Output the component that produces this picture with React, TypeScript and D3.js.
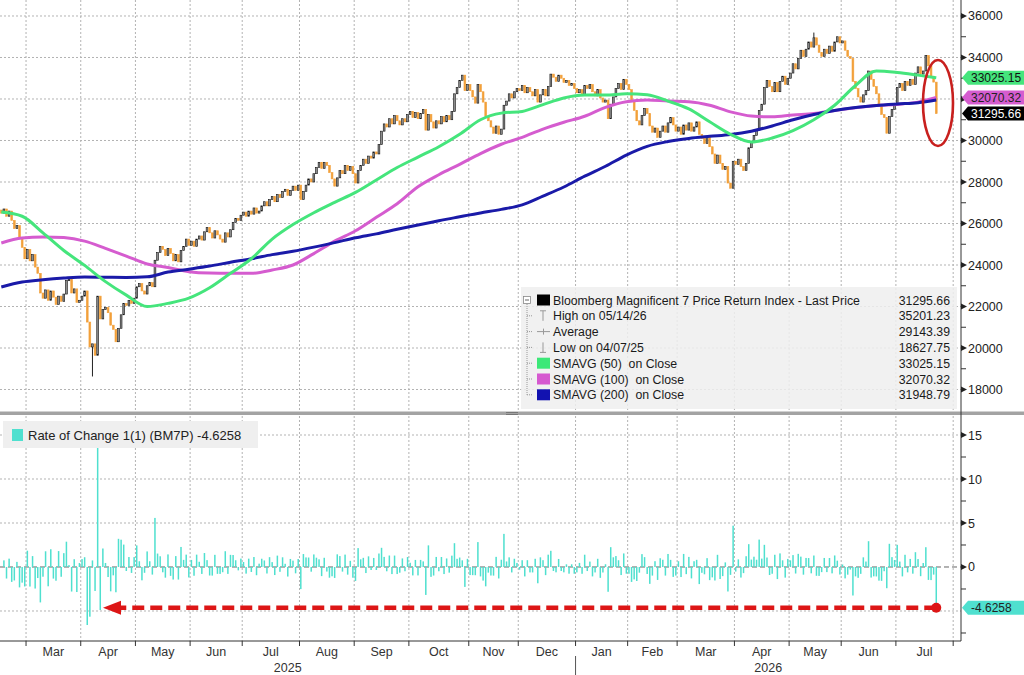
import React from 'react';
import * as d3 from 'd3';

// time axis: trading days per month (first and last months are partial)
const monthNames = ['Feb', 'Mar', 'Apr', 'May', 'Jun', 'Jul', 'Aug', 'Sep', 'Oct', 'Nov', 'Dec', 'Jan', 'Feb', 'Mar', 'Apr', 'May', 'Jun', 'Jul', 'Aug'];
const monthYears = [2025, 2025, 2025, 2025, 2025, 2025, 2025, 2025, 2025, 2025, 2025, 2026, 2026, 2026, 2026, 2026, 2026, 2026, 2026];
const monthTradingDays = [10, 21, 21, 21, 20, 22, 21, 21, 23, 19, 22, 20, 19, 22, 21, 20, 21, 22, 3];

// daily closes of BM7P
const closes = [
  // Feb 25
  26500, 26700, 26350, 26600, 26150, 25750, 25900, 25300, 24850, 24300,
  // Mar 25
  24750, 24200, 24500, 23900, 23600, 22650, 22400, 22800, 22300, 22750, 22450, 22100, 22500, 22250, 22600, 23250, 23300, 22650, 22850, 22200, 22300,
  // Apr 25
  22500, 22750, 21250, 20050, 20200, 19650, 22500, 21400, 21850, 21950, 21700, 21100, 20900, 20300, 20950, 21600, 22150, 22050, 22300, 22150, 22400,
  // May 25
  22950, 23100, 22750, 22600, 23000, 23150, 22950, 24230, 24600, 24900, 24750, 24450, 24800, 24550, 24200, 24500, 24150, 24700, 24900, 25250, 24950,
  // Jun 25
  25150, 24900, 25250, 25400, 25200, 25600, 25800, 25550, 25300, 25650, 25450, 25250, 25100, 25550, 25350, 25700, 26050, 26250, 26150, 26400,
  // Jul 25
  26550, 26350, 26600, 26450, 26750, 26500, 26600, 26850, 27050, 26850, 27150, 27300, 27050, 27400, 27250, 27550, 27650, 27350, 27600, 27800, 27600, 27850,
  // Aug 25
  27150, 27550, 27850, 28150, 28000, 28400, 28700, 28950, 28650, 28950, 28800, 28450, 28150, 27800, 28200, 28550, 28400, 28800, 28550, 28750, 28400,
  // Sep 25
  27950, 28550, 28800, 29100, 28900, 29250, 29150, 29450, 29350, 29800, 30450, 30800, 30650, 31050, 30800, 31200, 30950, 30750, 31050, 30900, 31250,
  // Oct 25
  31400, 31100, 31350, 31050, 31300, 31500, 30500, 31250, 30900, 30600, 30950, 30800, 31150, 30900, 31200, 31000, 31400, 32250, 32550, 32900, 33150, 32400, 32700,
  // Nov 25
  32400, 32100, 31800, 32700, 32350, 31850, 31150, 30950, 30650, 30350, 30700, 30300, 30550, 31700, 31900, 32250, 32050, 32350, 32500,
  // Dec 25
  32400, 32650, 32300, 32550, 32350, 32150, 32450, 31850, 32200, 32450, 32150, 32600, 33200, 33050, 32850, 33150, 33000, 32800, 32900, 32650, 32750, 32500,
  // Jan 26
  32300, 32450, 32200, 32650, 32500, 32700, 32350, 32150, 32450, 32050, 31850, 31950, 31050, 31750, 32100, 32500, 32750, 32450, 32950, 32700,
  // Feb 26
  32450, 31900, 31450, 30950, 30750, 31200, 31550, 31300, 30700, 30400, 30600, 30150, 30450, 30700, 30400, 30850, 31100, 30750, 30450,
  // Mar 26
  30650, 30300, 30750, 30500, 30850, 30450, 30650, 30900, 30300, 30100, 29850, 30150, 29700, 29350, 28900, 29300, 28900, 28600, 28750, 27950, 27700, 29000,
  // Apr 26
  28850, 29100, 28750, 28550, 28900, 29650, 29900, 30250, 30500, 31450, 31750, 32550, 32900, 32600, 32350, 32800, 32350, 32850, 33100, 32700, 33000,
  // May 26
  33250, 33700, 33450, 33950, 34350, 34050, 34400, 34750, 34500, 34950, 34600, 34250, 34050, 34400, 34200, 34550, 34300, 34750, 35000, 34700,
  // Jun 26
  34800, 34350, 34050, 33950, 32850, 32500, 32100, 31850, 32200, 32400, 33350, 32950, 32600, 32250, 31750, 31250, 31100, 30350, 31150, 31500, 31750,
  // Jul 26
  32550, 32750, 32400, 32850, 32650, 32950, 32700, 33250, 33550, 33200, 33350, 34100, 33600, 33100, 32813.5, 31295.66,
];
const firstOpen = 26650;
const lowMark = { day: 35, value: 18627.75 };
const highMark = { day: 312, value: 35201.23 };
const lastRocText = '-4.6258';

// moving averages sampled every 8 trading days (plus the last day)
const smaDays = [...d3.range(0, 353, 8), 359];
const sma50 = [26550, 26350, 25550, 24700, 23980, 23200, 22550, 22000, 22150, 22400, 22900, 23600, 24300, 25250, 25950, 26520, 27020, 27500, 28100, 28700, 29200, 29700, 30300, 31000, 31320, 31400, 31730, 32050, 32190, 32190, 32250, 32200, 31900, 31520, 30900, 30300, 29930, 30120, 30480, 31000, 31700, 32650, 33350, 33280, 33150, 33025.15];
const sma100 = [25060, 25300, 25350, 25320, 25150, 24800, 24430, 24050, 23880, 23680, 23610, 23600, 23600, 23760, 24000, 24550, 25150, 25650, 26300, 26950, 27770, 28350, 28850, 29370, 29820, 30150, 30550, 30880, 31170, 31600, 31870, 31950, 31900, 31870, 31700, 31380, 31180, 31140, 31230, 31300, 31450, 31580, 31690, 31740, 31850, 32070.32];
const sma200 = [22940, 23180, 23290, 23370, 23420, 23410, 23400, 23430, 23660, 23800, 23950, 24130, 24300, 24500, 24660, 24860, 25080, 25310, 25500, 25720, 25930, 26130, 26330, 26510, 26680, 26900, 27320, 27760, 28280, 28760, 29300, 29720, 29950, 30100, 30200, 30290, 30450, 30700, 31000, 31250, 31450, 31590, 31690, 31760, 31820, 31948.79];

const priceTicks = d3.range(18000, 36001, 2000);
const priceMinor = d3.range(19000, 36000, 2000);
const rocTicks = [0, 5, 10, 15];
const rocMinor = [-7.5, -2.5, 2.5, 7.5, 12.5];
const rocGrid = [-5, 5, 10, 15];

const legendRows = [
  { label: 'Bloomberg Magnificent 7 Price Return Index - Last Price', value: '31295.66', icon: 'square', color: '#000' },
  { label: 'High on 05/14/26', value: '35201.23', icon: 'high', color: '#999' },
  { label: 'Average', value: '29143.39', icon: 'avg', color: '#999' },
  { label: 'Low on 04/07/25', value: '18627.75', icon: 'low', color: '#999' },
  { label: 'SMAVG (50)  on Close', value: '33025.15', icon: 'square', color: '#3ce878' },
  { label: 'SMAVG (100)  on Close', value: '32070.32', icon: 'square', color: '#d659d0' },
  { label: 'SMAVG (200)  on Close', value: '31948.79', icon: 'square', color: '#1212b0' },
];

const FONT = "'Liberation Sans', Arial, sans-serif";
const GREEN = '#45e57c';
const MAGENTA = '#d55ccf';
const BLUE = '#1a1aa8';
const TURQ = '#4fe0cf';
const ORANGE = '#f2a03a';

function ValueTag({ y, fill, color, text }: { y: number; fill: string; color: string; text: string }) {
  const h = 7;
  return (
    <g>
      <path d={`M962,${y} L968,${y - h} L1024,${y - h} L1024,${y + h} L968,${y + h} Z`} fill={fill} />
      <text x={971} y={y + 4.3} fontSize={12} fill={color} fontFamily={FONT}>{text}</text>
    </g>
  );
}

export default function App() {
  const W = 1024;
  const H = 675;
  const right = 961;
  const upper = { top: 0, bottom: 411 };
  const lower = { top: 416, bottom: 641 };

  const bounds = Array.from(d3.cumsum([0, ...monthTradingDays]));
  const totalDays = bounds[bounds.length - 1];

  const x = d3.scaleLinear().domain([0, totalDays]).range([0, right]);
  const yP = d3.scaleLinear().domain([16964, 36771]).range([upper.bottom, upper.top]);
  const yR = d3.scaleLinear().domain([-8.41, 17.16]).range([lower.bottom, lower.top]);
  const cx = (i: number) => x(i + 0.5);

  const roc = closes.map((c, i) => (i === 0 ? null : (c / closes[i - 1] - 1) * 100));
  const lastRoc = roc[roc.length - 1] as number;
  const lastIdx = closes.length - 1;

  const smaLine = (vals: number[]) =>
    d3.line<number>()
      .x((_, k) => cx(smaDays[k]))
      .y(v => yP(v))
      .curve(d3.curveMonotoneX)(vals) || '';

  const innerBounds = bounds.slice(1, -1);

  // price tags on the right axis hide the tick labels under them
  const tagYs = [yP(sma50[sma50.length - 1]), yP(sma100[sma100.length - 1]), yP(closes[lastIdx])];
  const hidden = (y: number) => tagYs.some(t => Math.abs(t - y) < 9);

  // year spans on the axis
  const years = Array.from(new Set(monthYears)).map(yr => {
    const idx = monthYears.map((m, i) => (m === yr ? i : -1)).filter(i => i >= 0);
    const a = bounds[idx[0]];
    const b = bounds[idx[idx.length - 1] + 1];
    return { yr, a, b };
  });

  const legendX = 521;
  const legendY = 287;
  const rowH = 15.8;

  return (
    <svg width={W} height={H} style={{ position: 'absolute', left: 0, top: 0, background: '#fff' }} fontFamily={FONT}>
      <rect x={0} y={0} width={W} height={H} fill="#fff" />

      {/* grids */}
      <g stroke="#b3b3b3" strokeWidth={1} strokeDasharray="2,2">
        {priceTicks.map(t => (
          <line key={'pg' + t} x1={0} x2={right} y1={yP(t)} y2={yP(t)} />
        ))}
        {rocGrid.map(t => (
          <line key={'rg' + t} x1={0} x2={right} y1={yR(t)} y2={yR(t)} />
        ))}
        {innerBounds.map(b => (
          <g key={'vg' + b}>
            <line x1={x(b)} x2={x(b)} y1={upper.top} y2={upper.bottom} />
            <line x1={x(b)} x2={x(b)} y1={lower.top} y2={lower.bottom} />
          </g>
        ))}
      </g>

      {/* candles */}
      <g>
        <line x1={cx(lowMark.day)} x2={cx(lowMark.day)} y1={yP(closes[lowMark.day - 1])} y2={yP(lowMark.value)} stroke="#222" strokeWidth={1} />
        <line x1={cx(highMark.day)} x2={cx(highMark.day)} y1={yP(closes[highMark.day])} y2={yP(highMark.value)} stroke="#222" strokeWidth={1} />
        {closes.map((c, i) => {
          const o = i === 0 ? firstOpen : closes[i - 1];
          const up = c >= o;
          const top = yP(Math.max(o, c));
          const h = Math.max(1.2, yP(Math.min(o, c)) - top);
          return (
            <rect
              key={'c' + i}
              x={cx(i) - 0.9}
              y={top}
              width={1.8}
              height={h}
              fill={up ? '#8c8c8c' : ORANGE}
              stroke={up ? '#111' : ORANGE}
              strokeWidth={0.6}
            />
          );
        })}
      </g>

      {/* moving averages */}
      <path d={smaLine(sma100)} fill="none" stroke={MAGENTA} strokeWidth={3} />
      <path d={smaLine(sma200)} fill="none" stroke={BLUE} strokeWidth={3} />
      <path d={smaLine(sma50)} fill="none" stroke={GREEN} strokeWidth={3} />

      {/* red ellipse */}
      <ellipse cx={938} cy={103} rx={15} ry={43} fill="none" stroke="#c8201e" strokeWidth={2.6} />

      {/* legend, upper panel */}
      <rect x={legendX} y={legendY} width={436} height={122} fill="#efefef" opacity={0.85} />
      <line x1={527} x2={527} y1={legendY + 17} y2={legendY + 13 + rowH * 6} stroke="#999" strokeDasharray="1,1" />
      {legendRows.map((r, k) => {
        const cy = legendY + 13 + k * rowH;
        return (
          <g key={'lg' + k}>
            {k === 0 ? (
              <g>
                <rect x={523.5} y={cy - 3.5} width={7} height={7} fill="#fff" stroke="#888" strokeWidth={0.8} />
                <line x1={525} x2={529} y1={cy} y2={cy} stroke="#666" />
              </g>
            ) : (
              <line x1={527} x2={533} y1={cy} y2={cy} stroke="#999" strokeDasharray="1,1" />
            )}
            {r.icon === 'square' && <rect x={537} y={cy - 5.5} width={13} height={11} fill={r.color} />}
            {r.icon === 'high' && (
              <g stroke="#999" strokeWidth={1}>
                <line x1={540} x2={546} y1={cy - 5} y2={cy - 5} />
                <line x1={543} x2={543} y1={cy - 5} y2={cy + 5} />
              </g>
            )}
            {r.icon === 'avg' && (
              <g stroke="#999" strokeWidth={1}>
                <line x1={537} x2={550} y1={cy} y2={cy} />
                <line x1={543.5} x2={543.5} y1={cy - 3} y2={cy + 3} />
              </g>
            )}
            {r.icon === 'low' && (
              <g stroke="#999" strokeWidth={1}>
                <line x1={540} x2={546} y1={cy + 5} y2={cy + 5} />
                <line x1={543} x2={543} y1={cy - 5} y2={cy + 5} />
              </g>
            )}
            <text x={553} y={cy + 4.5} fontSize={12.3} fill="#1a1a1a" style={{ whiteSpace: 'pre' }}>{r.label}</text>
            <text x={950} y={cy + 4.5} fontSize={12.3} fill="#1a1a1a" textAnchor="end">{r.value}</text>
          </g>
        );
      })}

      {/* ROC bars */}
      <line x1={0} x2={right} y1={yR(0)} y2={yR(0)} stroke="#666" strokeWidth={1} strokeDasharray="5,3" />
      {roc.map((v, i) =>
        v === null ? null : (
          <rect
            key={'r' + i}
            x={cx(i) - 0.75}
            y={Math.min(yR(0), yR(v))}
            width={1.5}
            height={Math.max(0.6, Math.abs(yR(v) - yR(0)))}
            fill={TURQ}
          />
        )
      )}

      {/* red dashed arrow */}
      <line x1={cx(lastIdx)} x2={120} y1={yR(lastRoc)} y2={yR(lastRoc)} stroke="#dd1616" strokeWidth={4.5} strokeDasharray="12,6" />
      <path d={`M103,${yR(lastRoc)} L121,${yR(lastRoc) - 7} L121,${yR(lastRoc) + 7} Z`} fill="#dd1616" />
      <circle cx={cx(lastIdx)} cy={yR(lastRoc)} r={5} fill="#dd1616" />

      {/* legend, lower panel */}
      <rect x={3} y={421} width={255} height={27} fill="#efefef" />
      <rect x={12} y={429} width={11} height={12} fill={TURQ} />
      <text x={28} y={440} fontSize={13} fill="#222">Rate of Change 1(1) (BM7P) {lastRocText}</text>

      {/* panel separator */}
      <rect x={0} y={411.5} width={W} height={3.5} fill="#a3a3a3" />
      <line x1={506} x2={518} y1={412.5} y2={412.5} stroke="#777" />
      <line x1={506} x2={518} y1={414.5} y2={414.5} stroke="#777" />

      {/* right axis */}
      <line x1={right} x2={right} y1={0} y2={lower.bottom} stroke="#333" strokeWidth={1} />
      {priceTicks.map(t => (
        <g key={'pt' + t}>
          <path d={`M${right},${yP(t) - 3} L${right + 6},${yP(t)} L${right},${yP(t) + 3} Z`} fill="#222" />
          {!hidden(yP(t)) && <text x={968} y={yP(t) + 4.5} fontSize={12.5} fill="#222">{t}</text>}
        </g>
      ))}
      {priceMinor.map(t => (
        <line key={'pm' + t} x1={right} x2={right + 5} y1={yP(t)} y2={yP(t)} stroke="#333" />
      ))}
      {rocTicks.map(t => (
        <g key={'rt' + t}>
          <path d={`M${right},${yR(t) - 3} L${right + 6},${yR(t)} L${right},${yR(t) + 3} Z`} fill="#222" />
          <text x={968} y={yR(t) + 4.5} fontSize={12.5} fill="#222">{t}</text>
        </g>
      ))}
      {rocMinor.map(t => (
        <line key={'rm' + t} x1={right} x2={right + 5} y1={yR(t)} y2={yR(t)} stroke="#333" />
      ))}

      {/* value tags */}
      <ValueTag y={tagYs[0]} fill={GREEN} color="#111" text="33025.15" />
      <ValueTag y={tagYs[1]} fill={MAGENTA} color="#222" text="32070.32" />
      <ValueTag y={tagYs[2]} fill="#000" color="#fff" text="31295.66" />
      <ValueTag y={yR(lastRoc)} fill={TURQ} color="#222" text={lastRocText} />

      {/* bottom axis */}
      <line x1={0} x2={right} y1={lower.bottom} y2={lower.bottom} stroke="#333" strokeWidth={1} />
      {innerBounds.map(b => (
        <line key={'mt' + b} x1={x(b)} x2={x(b)} y1={lower.bottom} y2={lower.bottom + 5} stroke="#333" />
      ))}
      {monthNames.map((m, i) =>
        i === 0 || i === monthNames.length - 1 ? null : (
          <text key={'ml' + i} x={x((bounds[i] + bounds[i + 1]) / 2)} y={656} fontSize={12.5} fill="#333" textAnchor="middle">
            {m}
          </text>
        )
      )}
      {years.map(({ yr, a, b }) => (
        <text key={'yr' + yr} x={x((a + b) / 2)} y={672} fontSize={12.5} fill="#333" textAnchor="middle">
          {yr}
        </text>
      ))}
      {years.slice(1).map(({ yr, a }) => (
        <line key={'ys' + yr} x1={x(a)} x2={x(a)} y1={656} y2={675} stroke="#555" />
      ))}
    </svg>
  );
}
